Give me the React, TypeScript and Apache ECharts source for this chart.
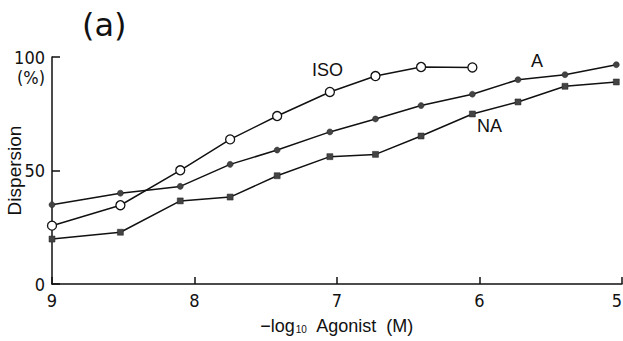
import React, { useEffect, useRef } from "react";
import * as echarts from "echarts";

const xValues = [9, 8.52, 8.1, 7.75, 7.42, 7.05, 6.73, 6.41, 6.05, 5.73, 5.4, 5.04];
const isoValues = [25.7, 34.7, 50.1, 63.7, 74.0, 84.6, 91.6, 95.6, 95.4];
const aValues = [34.9, 40.0, 43.0, 52.7, 59.0, 67.0, 72.7, 78.6, 83.6, 90.0, 92.2, 96.6];
const naValues = [19.8, 22.8, 36.6, 38.3, 47.7, 56.1, 57.1, 65.2, 74.9, 80.2, 87.1, 89.0];
const xTicks = [9, 8, 7, 6, 5];
const yTicks = [0, 50, 100];

const pairs = (vals: number[]) => vals.map((v, i) => [xValues[i], v]);

const FONT = "'Liberation Sans', Arial, sans-serif";
const NARROW = "'Liberation Sans Narrow', 'DejaVu Sans Condensed', 'Liberation Sans', sans-serif";

export default function App() {
  const ref = useRef<HTMLDivElement>(null);
  useEffect(() => {
    const chart = echarts.init(ref.current!, null, { renderer: "svg" });
    const line = { color: "#111", width: 1.5 };
    chart.setOption({
      animation: false,
      backgroundColor: "#fff",
      grid: { left: 52, right: 1, top: 57, bottom: 57, containLabel: false, outerBoundsMode: "none" },
      xAxis: {
        type: "value",
        min: 5,
        max: 9,
        interval: 1,
        inverse: true,
        splitLine: { show: false },
        axisLine: { lineStyle: { color: "#111", width: 1.5 } },
        axisTick: { inside: true, length: 7, lineStyle: { color: "#111", width: 1.5 } },
        axisLabel: {
          color: "#111",
          fontFamily: NARROW,
          fontSize: 18,
          margin: 7,
          alignMinLabel: "right",
          formatter: (v: number) => (xTicks.includes(v) ? String(v) : ""),
        },
        name: "{a|−log}{s|10}{a|  Agonist  (M)}",
        nameLocation: "middle",
        nameGap: 33,
        nameMoveOverlap: false,
        nameTextStyle: {
          rich: {
            a: { fontFamily: FONT, fontSize: 18, color: "#111" },
            s: { fontFamily: FONT, fontSize: 10, color: "#111", padding: [6, 0, 0, 1] },
          },
        },
      },
      yAxis: {
        type: "value",
        min: 0,
        max: 100,
        interval: 50,
        splitLine: { show: false },
        axisLine: { show: true, lineStyle: { color: "#111", width: 1.5 } },
        axisTick: { show: true, inside: true, length: 8, lineStyle: { color: "#111", width: 1.5 } },
        axisLabel: {
          color: "#111",
          fontFamily: NARROW,
          fontSize: 18,
          margin: 7,
          formatter: (v: number) => (yTicks.includes(v) ? String(v) : ""),
        },
        name: "Dispersion",
        nameLocation: "middle",
        nameGap: 28,
        nameMoveOverlap: false,
        nameTextStyle: { fontFamily: FONT, fontSize: 19, color: "#111" },
      },
      series: [
        {
          name: "ISO",
          type: "line",
          data: pairs(isoValues),
          symbol: "circle",
          symbolSize: 9,
          lineStyle: line,
          itemStyle: { color: "#fff", borderColor: "#111", borderWidth: 1.3 },
          z: 3,
        },
        {
          name: "A",
          type: "line",
          data: pairs(aValues),
          symbol: "circle",
          symbolSize: 6,
          lineStyle: line,
          itemStyle: { color: "#444", borderColor: "#222", borderWidth: 0.5 },
        },
        {
          name: "NA",
          type: "line",
          data: pairs(naValues),
          symbol: "rect",
          symbolSize: 6,
          lineStyle: line,
          itemStyle: { color: "#444", borderColor: "#222", borderWidth: 0.5 },
        },
      ],
      graphic: [
        { type: "text", left: 82, top: 9, style: { text: "(a)", fontFamily: "'DejaVu Sans', sans-serif", fontSize: 32, fill: "#111" } },
        { type: "text", left: 17, top: 68, style: { text: "(%)", fontFamily: NARROW, fontSize: 18, fill: "#111" } },
        { type: "text", left: 312, top: 61, style: { text: "ISO", fontFamily: FONT, fontSize: 18, fill: "#111" } },
        { type: "text", left: 531, top: 52, style: { text: "A", fontFamily: FONT, fontSize: 18, fill: "#111" } },
        { type: "text", left: 477, top: 117, style: { text: "NA", fontFamily: FONT, fontSize: 18, fill: "#111" } },
      ],
    });
    return () => chart.dispose();
  }, []);
  return <div ref={ref} style={{ width: 623, height: 341, position: "absolute", left: 0, top: 0 }} />;
}
